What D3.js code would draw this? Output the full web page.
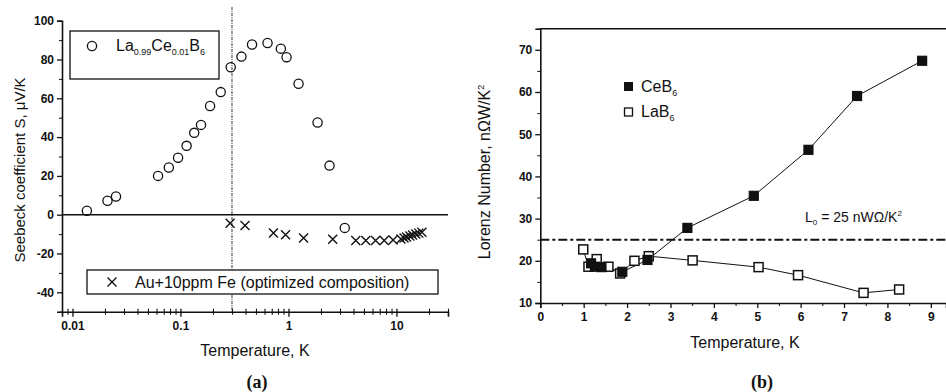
<!DOCTYPE html>
<html>
<head>
<meta charset="utf-8">
<script src="https://cdn.jsdelivr.net/npm/d3@7"></script>
<style>
  body { margin: 0; background: #fff; }
  text { font-family: "Liberation Sans", Arial, sans-serif; fill: #111; }
  .tick text { font-size: 12px; font-weight: bold; }
  .axis path, .axis line { stroke: #111; }
</style>
</head>
<body>
<div id="chart"></div>
<script>
// panel (a): Seebeck coefficient vs temperature (log scale)
const laCeT = [0.0136, 0.0211, 0.0253, 0.062, 0.078, 0.095, 0.114, 0.134, 0.155, 0.188, 0.236, 0.292,
  0.367, 0.46, 0.64, 0.85, 0.96, 1.24, 1.86, 2.40, 3.32];
const laCeS = [2, 7.2, 9.4, 20, 24.3, 29.4, 35.5, 42.2, 46.3, 56, 63.2, 76,
  81.5, 87.7, 88.5, 85.6, 81.2, 67.5, 47.5, 25.3, -6.8];
const auFeT = [0.288, 0.396, 0.726, 0.94, 1.38, 2.57, 4.2, 5.2, 6.4, 7.7, 9.3, 11.0,
  11.75, 12.4, 13.3, 14.1, 15.1, 16.1, 17.2];
const auFeS = [-4.4, -5.6, -9.4, -10.3, -12, -12.7, -13.3, -13.3, -13.3, -13.3, -13, -12.5,
  -12, -11.5, -11, -10.5, -10, -9.5, -9];
const aXTicks = [0.01, 0.1, 1, 10];
const aYTicks = [-40, -20, 0, 20, 40, 60, 80, 100];

// panel (b): Lorenz number vs temperature
const ceT = [1.17, 1.26, 1.41, 1.89, 2.47, 3.39, 4.92, 6.18, 7.30, 8.80];
const ceL = [19.4, 18.6, 18.5, 17.4, 20.2, 27.8, 35.4, 46.3, 59.05, 67.4];
const laT = [0.99, 1.11, 1.30, 1.57, 1.84, 2.17, 2.50, 3.51, 5.03, 5.94, 7.45, 8.27];
const laL = [22.7, 18.6, 20.4, 18.6, 17.0, 20.0, 21.1, 20.1, 18.5, 16.6, 12.4, 13.2];
const bXTicks = [0, 1, 2, 3, 4, 5, 6, 7, 8, 9];
const bYTicks = [10, 20, 30, 40, 50, 60, 70];
const lorenzL0 = 25;
const markT = 0.3;

const svg = d3.select('#chart').append('svg')
  .attr('width', 946).attr('height', 392);

const plain = d => String(d); // hyphen minus, like the original

// ---------- panel (a) ----------
const xa = d3.scaleLog().domain([0.008, 30]).range([62, 448]);
const ya = d3.scaleLinear().domain([-50, 100]).range([311.7, 20.7]);

const minorA = [];
[0.001, 0.01, 0.1, 1, 10].forEach(d => {
  for (let k = 2; k <= 9; k++) {
    const v = d * k;
    if (v >= 0.008 && v <= 30) minorA.push(v);
  }
});

const ga = svg.append('g');

ga.append('g').attr('class', 'axis')
  .attr('transform', `translate(0,${ya(-50)})`)
  .call(d3.axisBottom(xa).tickValues(aXTicks).tickFormat(plain).tickSize(5).tickPadding(5))
  .call(g => g.select('path').attr('stroke-width', 1.6))
  .call(g => g.selectAll('.tick line').attr('y1', -3).attr('stroke-width', 1.3));
ga.append('g').attr('class', 'axis')
  .attr('transform', `translate(0,${ya(-50)})`)
  .call(d3.axisBottom(xa).tickValues(minorA).tickFormat('').tickSize(3))
  .call(g => g.select('path').remove())
  .call(g => g.selectAll('.tick line').attr('y1', -3).attr('stroke-width', 1.1));

ga.append('g').attr('class', 'axis')
  .attr('transform', `translate(${xa.range()[0]},0)`)
  .call(d3.axisLeft(ya).tickValues(aYTicks).tickFormat(plain).tickSize(5).tickPadding(3))
  .call(g => g.select('path').attr('stroke-width', 1.6))
  .call(g => g.selectAll('.tick line').attr('stroke-width', 1.3));
ga.append('g').attr('class', 'axis')
  .attr('transform', `translate(${xa.range()[0]},0)`)
  .call(d3.axisLeft(ya).tickValues(d3.range(-50, 101, 10).filter(v => v % 20 !== 0)).tickFormat('').tickSize(3))
  .call(g => g.select('path').remove());

// zero line
ga.append('line')
  .attr('x1', xa.range()[0]).attr('x2', xa.range()[1])
  .attr('y1', ya(0)).attr('y2', ya(0))
  .attr('stroke', '#111').attr('stroke-width', 1.5);

// vertical dash-dot marker at 0.3 K
ga.append('line')
  .attr('x1', xa(markT)).attr('x2', xa(markT))
  .attr('y1', 7).attr('y2', ya(-50))
  .attr('stroke', '#333').attr('stroke-width', 1)
  .attr('stroke-dasharray', '3,1,1,1');

// legend boxes
ga.append('rect').attr('x', 70).attr('y', 31).attr('width', 149).attr('height', 48)
  .attr('fill', '#fff').attr('stroke', '#111').attr('stroke-width', 1.3);
ga.append('circle').attr('cx', 92).attr('cy', 46).attr('r', 4.6)
  .attr('fill', 'none').attr('stroke', '#111').attr('stroke-width', 1.3);
const legA = ga.append('text').attr('x', 116).attr('y', 51).style('font-size', '16px');
legA.append('tspan').text('La');
legA.append('tspan').text('0.99').attr('dy', 4).style('font-size', '9px');
legA.append('tspan').text('Ce').attr('dy', -4);
legA.append('tspan').text('0.01').attr('dy', 4).style('font-size', '9px');
legA.append('tspan').text('B').attr('dy', -4);
legA.append('tspan').text('6').attr('dy', 4).style('font-size', '9px');

ga.append('rect').attr('x', 87).attr('y', 270).attr('width', 351).attr('height', 24)
  .attr('fill', '#fff').attr('stroke', '#111').attr('stroke-width', 1.3);
const xMark = (g, cx, cy, s) => {
  g.append('path')
    .attr('d', `M${cx - s},${cy - s}L${cx + s},${cy + s}M${cx - s},${cy + s}L${cx + s},${cy - s}`)
    .attr('stroke', '#111').attr('stroke-width', 1.4).attr('fill', 'none');
};
xMark(ga, 112, 282, 4.5);
ga.append('text').attr('x', 135).attr('y', 288).style('font-size', '16px')
  .text('Au+10ppm Fe (optimized composition)');

// data
ga.selectAll('.circ').data(laCeT).enter().append('circle')
  .attr('cx', d => xa(d)).attr('cy', (d, i) => ya(laCeS[i])).attr('r', 4.6)
  .attr('fill', 'none').attr('stroke', '#111').attr('stroke-width', 1.3);
auFeT.forEach((t, i) => xMark(ga, xa(t), ya(auFeS[i]), 4.5));

// titles
ga.append('text').attr('transform', 'translate(25,170) rotate(-90)')
  .attr('text-anchor', 'middle').style('font-size', '15px')
  .text('Seebeck coefficient S, \u03BCV/K');
ga.append('text').attr('x', 255).attr('y', 356).attr('text-anchor', 'middle')
  .style('font-size', '16px').text('Temperature, K');
ga.append('text').attr('x', 257).attr('y', 388).attr('text-anchor', 'middle')
  .style('font-family', '"Liberation Serif", serif').style('font-weight', 'bold').style('font-size', '18px')
  .text('(a)');

// ---------- panel (b) ----------
const xb = d3.scaleLinear().domain([0, 9.35]).range([540.3, 946]);
const yb = d3.scaleLinear().domain([10, 75]).range([303, 28.7]);
const gb = svg.append('g');

gb.append('g').attr('class', 'axis')
  .attr('transform', `translate(0,${yb(10)})`)
  .call(d3.axisBottom(xb).tickValues(bXTicks).tickFormat(plain).tickSize(5).tickPadding(4))
  .call(g => g.select('path').attr('stroke-width', 1.6))
  .call(g => g.selectAll('.tick line').attr('stroke-width', 1.3));
gb.append('g').attr('class', 'axis')
  .attr('transform', `translate(0,${yb(10)})`)
  .call(d3.axisBottom(xb).tickValues(bXTicks.map(d => d + 0.5)).tickFormat('').tickSize(3))
  .call(g => g.select('path').remove());

gb.append('g').attr('class', 'axis')
  .attr('transform', `translate(${xb(0)},0)`)
  .call(d3.axisLeft(yb).tickValues(bYTicks).tickFormat(plain).tickSize(5).tickPadding(3))
  .call(g => g.select('path').attr('stroke-width', 1.6))
  .call(g => g.selectAll('.tick line').attr('stroke-width', 1.3));
gb.append('g').attr('class', 'axis')
  .attr('transform', `translate(${xb(0)},0)`)
  .call(d3.axisLeft(yb).tickValues(bYTicks.map(d => d + 5)).tickFormat('').tickSize(3))
  .call(g => g.select('path').remove());

// top frame
gb.append('line')
  .attr('x1', xb(0)).attr('x2', 946).attr('y1', yb(75)).attr('y2', yb(75))
  .attr('stroke', '#111').attr('stroke-width', 1.5);

// L0 line
gb.append('line')
  .attr('x1', xb(0)).attr('x2', 946).attr('y1', yb(lorenzL0)).attr('y2', yb(lorenzL0))
  .attr('stroke', '#111').attr('stroke-width', 2)
  .attr('stroke-dasharray', '9,3,3,3');
const l0 = gb.append('text').attr('x', 805).attr('y', 222).style('font-size', '14px');
l0.append('tspan').text('L');
l0.append('tspan').text('0').attr('dy', 3).style('font-size', '8px');
l0.append('tspan').text(' = 25 nW\u03A9/K').attr('dy', -3);
l0.append('tspan').text('2').attr('dy', -6).style('font-size', '8px');

const line = (xs, ys) => d3.line().x((d, i) => xb(xs[i])).y((d, i) => yb(ys[i]))(xs);
gb.append('path').attr('d', line(laT, laL)).attr('fill', 'none').attr('stroke', '#111').attr('stroke-width', 1);
gb.append('path').attr('d', line(ceT, ceL)).attr('fill', 'none').attr('stroke', '#111').attr('stroke-width', 1);

const sq = 9;
gb.selectAll('.la').data(laT).enter().append('rect')
  .attr('x', d => xb(d) - sq / 2).attr('y', (d, i) => yb(laL[i]) - sq / 2)
  .attr('width', sq).attr('height', sq)
  .attr('fill', '#fff').attr('stroke', '#111').attr('stroke-width', 1.5);
gb.selectAll('.ce').data(ceT).enter().append('rect')
  .attr('x', d => xb(d) - sq / 2).attr('y', (d, i) => yb(ceL[i]) - sq / 2)
  .attr('width', sq).attr('height', sq)
  .attr('fill', '#111').attr('stroke', '#111').attr('stroke-width', 1.2);

// legend
gb.append('rect').attr('x', 624).attr('y', 82).attr('width', 9).attr('height', 9).attr('fill', '#111');
gb.append('rect').attr('x', 624.5).attr('y', 108).attr('width', 8).attr('height', 8)
  .attr('fill', '#fff').attr('stroke', '#111').attr('stroke-width', 1.3);
const lc = gb.append('text').attr('x', 641).attr('y', 92).style('font-size', '16px');
lc.append('tspan').text('CeB');
lc.append('tspan').text('6').attr('dy', 4).style('font-size', '9px');
const ll = gb.append('text').attr('x', 641).attr('y', 117).style('font-size', '16px');
ll.append('tspan').text('LaB');
ll.append('tspan').text('6').attr('dy', 4).style('font-size', '9px');

// titles
const yt = gb.append('text').attr('transform', 'translate(490,172) rotate(-90)')
  .attr('text-anchor', 'middle').style('font-size', '16px');
yt.append('tspan').text('Lorenz Number,  n\u03A9W/K');
yt.append('tspan').text('2').attr('dy', -6).style('font-size', '9px');
gb.append('text').attr('x', 745).attr('y', 348).attr('text-anchor', 'middle')
  .style('font-size', '16px').text('Temperature, K');
gb.append('text').attr('x', 762).attr('y', 388).attr('text-anchor', 'middle')
  .style('font-family', '"Liberation Serif", serif').style('font-weight', 'bold').style('font-size', '18px')
  .text('(b)');
</script>
</body>
</html>
